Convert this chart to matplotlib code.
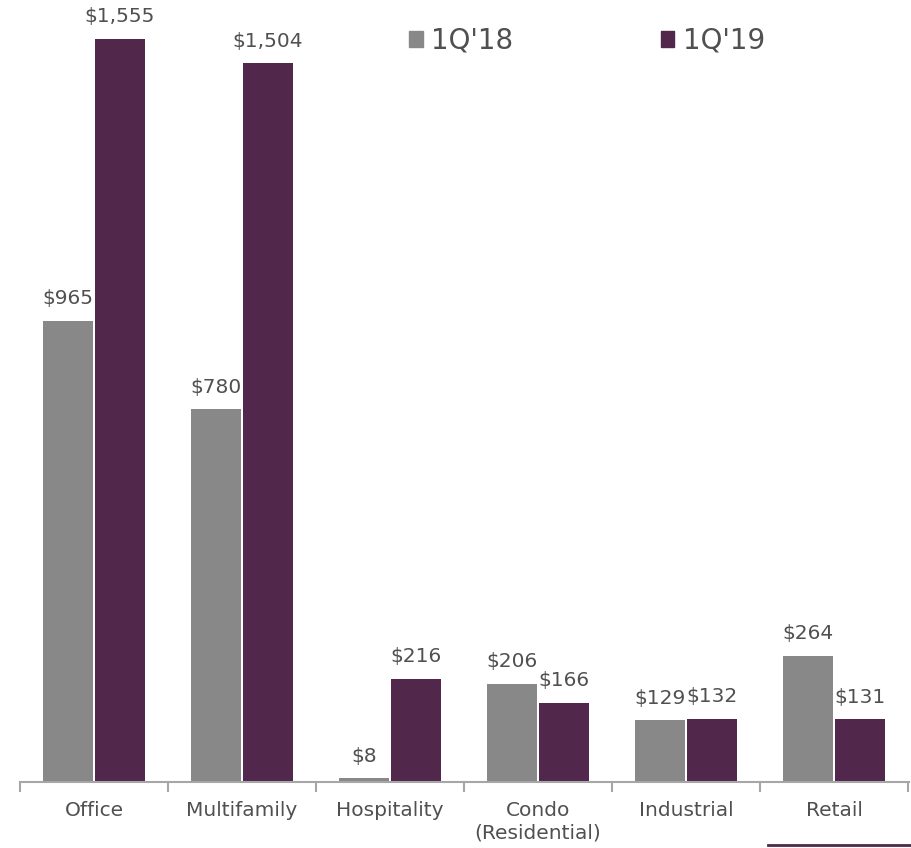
import numpy as np
import matplotlib
matplotlib.use("Agg")
from matplotlib import pyplot as plt
from matplotlib.lines import Line2D
from matplotlib.patches import Patch

categories = ["Office", "Multifamily", "Hospitality", "Condo\n(Residential)", "Industrial", "Retail"]
q1_18 = [965, 780, 8, 206, 129, 264]
q1_19 = [1555, 1504, 216, 166, 132, 131]

gray = "#888888"
purple = "#51274b"
text_col = "#505050"
axis_col = "#a6a6a6"

plt.rcParams['font.family'] = ['DejaVu Sans']

fig = plt.figure(figsize=(9.11, 8.48), dpi=100)
ax = fig.add_axes([20 / 911, 66 / 848, 888 / 911, 782 / 848])

x = np.arange(len(categories))
w = 0.335
b1 = ax.bar(x - 0.175, q1_18, w, color=gray)
b2 = ax.bar(x + 0.175, q1_19, w, color=purple)

# value labels above each bar
for bars, vals in ((b1, q1_18), (b2, q1_19)):
    for r, v in zip(bars, vals):
        ax.annotate("${:,}".format(v), (r.get_x() + r.get_width() / 2, v),
                    xytext=(0, 9), textcoords="offset points",
                    ha="center", va="bottom", fontsize=14.5, color=text_col)

ax.set_xlim(-0.5, 5.5)
ax.set_ylim(0, 1636)

for s in ["top", "right", "left"]:
    ax.spines[s].set_visible(False)
ax.spines["bottom"].set_color(axis_col)
ax.spines["bottom"].set_linewidth(1.5)
ax.spines["bottom"].set_bounds(-0.5, 5.51)
ax.set_yticks([])

ax.set_xticks(x)
ax.set_xticklabels(categories, fontsize=14.5, color=text_col, linespacing=1.2)
ax.tick_params(axis="x", which="major", length=0, pad=14)
ax.set_xticks(np.arange(-0.5, 6.0, 1.0), minor=True)
ax.tick_params(axis="x", which="minor", length=7, width=1.5, color=axis_col, direction="out")

handles = [Patch(color=gray, label="1Q'18"), Patch(color=purple, label="1Q'19")]
leg = ax.legend(handles=handles, ncol=2, loc="center", bbox_to_anchor=(587 / 911, 1 - 41 / 848),
                bbox_transform=fig.transFigure, frameon=False, fontsize=20,
                handlelength=0.5, handleheight=0.5, handletextpad=0.3, columnspacing=5.3)
for t in leg.get_texts():
    t.set_color(text_col)

fig.add_artist(Line2D([768 / 911, 912 / 911], [1 - 845 / 848, 1 - 845 / 848],
                      transform=fig.transFigure, color=purple, linewidth=2))

fig.savefig("out.png", dpi=100)
